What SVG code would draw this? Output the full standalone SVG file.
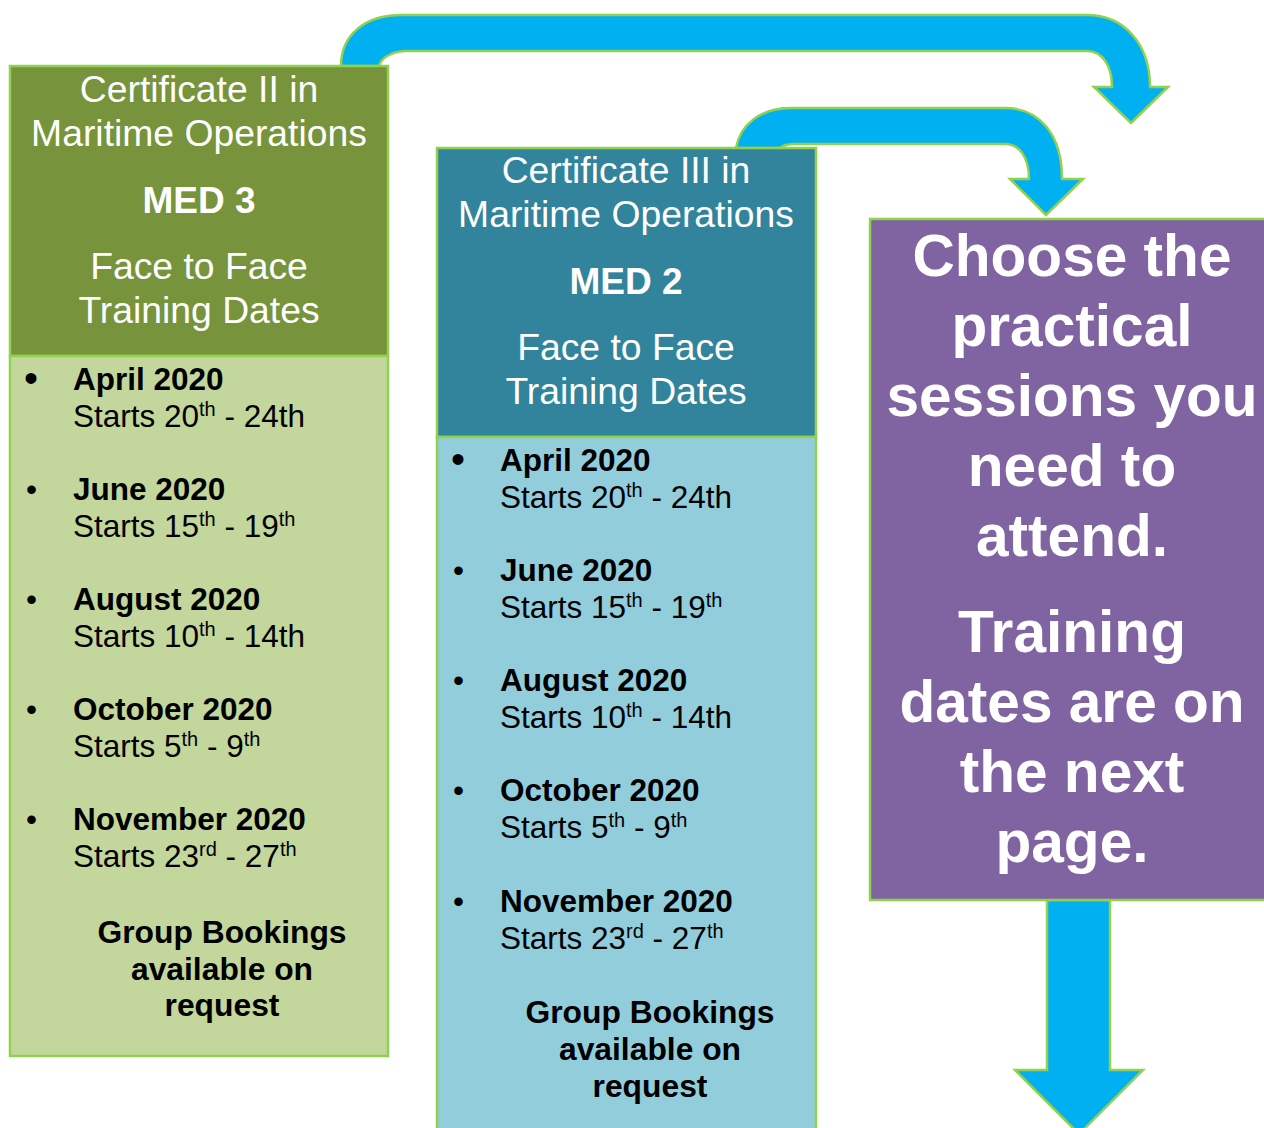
<svg xmlns="http://www.w3.org/2000/svg" width="1264" height="1128" viewBox="0 0 1264 1128">
<style>
.arrow{fill:#00B0F0;stroke:#92D050;stroke-width:2.5;stroke-linejoin:miter}
.bd{stroke:#92D050;stroke-width:2.5}
.hd{font-family:"Liberation Sans",Arial,sans-serif;font-size:37.3px;fill:#fff;text-anchor:middle}
.hdb{font-family:"Liberation Sans",Arial,sans-serif;font-size:37px;font-weight:bold;fill:#fff;text-anchor:middle}
.it{font-family:"Liberation Sans",Arial,sans-serif;font-size:31.5px;fill:#000}
.itb{font-family:"Liberation Sans",Arial,sans-serif;font-size:31.5px;font-weight:bold;fill:#000}
.grp{font-family:"Liberation Sans",Arial,sans-serif;font-size:31.8px;font-weight:bold;fill:#000;text-anchor:middle}
.pp{font-family:"Liberation Sans",Arial,sans-serif;font-size:58.6px;font-weight:bold;fill:#fff;text-anchor:middle}
.sup{font-size:20px}
.bigb{font-size:40px}
</style>
<g id="connectors">
<path class="arrow" d="M341,66 C341,35 365,15 401,15 L1087,15 C1125,15 1150,45 1150,87 L1168,87 L1131,123 L1094,87 L1112,87 C1112,65 1102,51 1087,51 L407,51 C392,51 381,58 379,66 Z"/>
<path class="arrow" d="M736,148 C740,125 760,108 791,108 L1005,108 C1040,108 1062,135 1062,179 L1083,179 L1046,215 L1010,179 L1029,179 C1029,158 1020,144 1005,144 L795,144 C788,144 782,146 780,148 Z"/>
<path class="arrow" d="M1047,900 L1110,900 L1110,1070 L1143,1070 L1079,1134 L1015,1070 L1047,1070 Z"/>
</g>
<g id="cert2">
<rect class="bd" x="10" y="66" width="378" height="290" fill="#77933C"/>
<rect class="bd" x="10" y="356" width="378" height="700" fill="#C3D69B"/>
<text class="hd" x="199" y="102">Certificate II in</text>
<text class="hd" x="199" y="146">Maritime Operations</text>
<text class="hdb" x="199" y="213">MED 3</text>
<text class="hd" x="199" y="279">Face to Face</text>
<text class="hd" x="199" y="323">Training Dates</text>
<text class="it bigb" x="24" y="392">•</text>
<text class="itb" x="73" y="390">April 2020</text>
<text class="it" x="73" y="427">Starts 20<tspan class="sup" dy="-11">th</tspan><tspan dy="11"> - 24th</tspan></text>
<text class="it" x="26" y="500">•</text>
<text class="itb" x="73" y="500">June 2020</text>
<text class="it" x="73" y="537">Starts 15<tspan class="sup" dy="-11">th</tspan><tspan dy="11"> - 19</tspan><tspan class="sup" dy="-11">th</tspan></text>
<text class="it" x="26" y="610">•</text>
<text class="itb" x="73" y="610">August 2020</text>
<text class="it" x="73" y="647">Starts 10<tspan class="sup" dy="-11">th</tspan><tspan dy="11"> - 14th</tspan></text>
<text class="it" x="26" y="720">•</text>
<text class="itb" x="73" y="720">October 2020</text>
<text class="it" x="73" y="757">Starts 5<tspan class="sup" dy="-11">th</tspan><tspan dy="11"> - 9</tspan><tspan class="sup" dy="-11">th</tspan></text>
<text class="it" x="26" y="830">•</text>
<text class="itb" x="73" y="830">November 2020</text>
<text class="it" x="73" y="867">Starts 23<tspan class="sup" dy="-11">rd</tspan><tspan dy="11"> - 27</tspan><tspan class="sup" dy="-11">th</tspan></text>
<text class="grp" x="222" y="943">Group Bookings</text>
<text class="grp" x="222" y="980">available on</text>
<text class="grp" x="222" y="1016">request</text>
</g>
<g id="cert3">
<rect class="bd" x="437" y="148" width="379" height="289" fill="#31849B"/>
<rect class="bd" x="437" y="437" width="379" height="700" fill="#92CDDC"/>
<text class="hd" x="626" y="183">Certificate III in</text>
<text class="hd" x="626" y="227">Maritime Operations</text>
<text class="hdb" x="626" y="294">MED 2</text>
<text class="hd" x="626" y="360">Face to Face</text>
<text class="hd" x="626" y="404">Training Dates</text>
<text class="it bigb" x="451" y="473">•</text>
<text class="itb" x="500" y="471">April 2020</text>
<text class="it" x="500" y="508">Starts 20<tspan class="sup" dy="-11">th</tspan><tspan dy="11"> - 24th</tspan></text>
<text class="it" x="453" y="581">•</text>
<text class="itb" x="500" y="581">June 2020</text>
<text class="it" x="500" y="618">Starts 15<tspan class="sup" dy="-11">th</tspan><tspan dy="11"> - 19</tspan><tspan class="sup" dy="-11">th</tspan></text>
<text class="it" x="453" y="691">•</text>
<text class="itb" x="500" y="691">August 2020</text>
<text class="it" x="500" y="728">Starts 10<tspan class="sup" dy="-11">th</tspan><tspan dy="11"> - 14th</tspan></text>
<text class="it" x="453" y="801">•</text>
<text class="itb" x="500" y="801">October 2020</text>
<text class="it" x="500" y="838">Starts 5<tspan class="sup" dy="-11">th</tspan><tspan dy="11"> - 9</tspan><tspan class="sup" dy="-11">th</tspan></text>
<text class="it" x="453" y="912">•</text>
<text class="itb" x="500" y="912">November 2020</text>
<text class="it" x="500" y="949">Starts 23<tspan class="sup" dy="-11">rd</tspan><tspan dy="11"> - 27</tspan><tspan class="sup" dy="-11">th</tspan></text>
<text class="grp" x="650" y="1023">Group Bookings</text>
<text class="grp" x="650" y="1060">available on</text>
<text class="grp" x="650" y="1097">request</text>
</g>
<g id="choose">
<rect class="bd" x="870" y="219" width="400" height="681" fill="#8064A2"/>
<text class="pp" x="1072" y="276">Choose the</text>
<text class="pp" x="1072" y="346">practical</text>
<text class="pp" x="1072" y="416">sessions you</text>
<text class="pp" x="1072" y="486">need to</text>
<text class="pp" x="1072" y="556">attend.</text>
<text class="pp" x="1072" y="652">Training</text>
<text class="pp" x="1072" y="722">dates are on</text>
<text class="pp" x="1072" y="792">the next</text>
<text class="pp" x="1072" y="862">page.</text>
</g>
</svg>
